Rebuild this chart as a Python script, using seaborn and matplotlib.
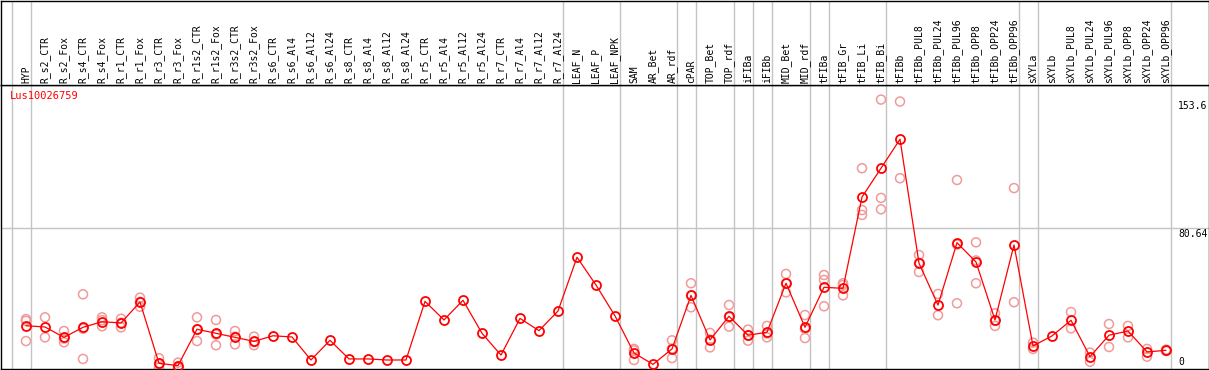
import numpy as np
import matplotlib
matplotlib.use("Agg")
import matplotlib.pyplot as plt
import seaborn as sns
import pandas as pd

samples = ['HYP', 'R_s2_CTR', 'R_s2_Fox', 'R_s4_CTR', 'R_s4_Fox', 'R_r1_CTR', 'R_r1_Fox',
           'R_r3_CTR', 'R_r3_Fox', 'R_r1s2_CTR', 'R_r1s2_Fox', 'R_r3s2_CTR', 'R_r3s2_Fox',
           'R_s6_CTR', 'R_s6_Al4', 'R_s6_Al12', 'R_s6_Al24', 'R_s8_CTR', 'R_s8_Al4',
           'R_s8_Al12', 'R_s8_Al24', 'R_r5_CTR', 'R_r5_Al4', 'R_r5_Al12', 'R_r5_Al24',
           'R_r7_CTR', 'R_r7_Al4', 'R_r7_Al12', 'R_r7_Al24', 'LEAF_N', 'LEAF_P', 'LEAF_NPK',
           'SAM', 'AR_Bet', 'AR_rdf', 'cPAR', 'TOP_Bet', 'TOP_rdf', 'iFIBa', 'iFIBb',
           'MID_Bet', 'MID_rdf', 'tFIBa', 'tFIB_Gr', 'tFIB_Li', 'tFIB_Bi', 'tFIBb',
           'tFIBb_PUL8', 'tFIBb_PUL24', 'tFIBb_PUL96', 'tFIBb_OPP8', 'tFIBb_OPP24',
           'tFIBb_OPP96', 'sXYLa', 'sXYLb', 'sXYLb_PUL8', 'sXYLb_PUL24', 'sXYLb_PUL96',
           'sXYLb_OPP8', 'sXYLb_OPP24', 'sXYLb_OPP96']

means = [24.8, 24.1, 18.2, 23.9, 27.1, 26.4, 38.3, 3.4, 2.1, 22.8, 20.5, 18.2, 15.9,
         19.1, 18.4, 5.3, 16.5, 5.9, 5.9, 5.3, 5.3, 38.7, 28.1, 39.3, 20.5,
         8.1, 29.0, 22.0, 33.2, 63.8, 48.0, 30.4,
         9.3, 2.8, 11.6, 42.1, 16.7, 30.2, 19.4, 21.1, 49.0, 23.9,
         46.7, 46.1, 98.1, 114.5, 131.0, 60.4, 36.6, 72.1, 61.1, 28.1, 70.8,
         13.3, 19.0, 27.9, 7.2, 19.4, 21.8, 9.9, 10.8]

replicates = [[28.6, 27.6, 16.1], [29.6, 18.2], [21.8, 15.4, 17.5], [42.7, 5.9, 23.1],
              [29.6, 28.0, 24.5], [28.8, 23.9, 26.5], [40.8, 35.6, 38.4], [6.3, 1.0, 3.0],
              [3.8, 0.8, 1.7], [29.6, 16.1, 22.7], [28.1, 13.7, 19.8], [21.8, 14.2, 18.6],
              [18.6, 13.7, 15.5],
              [], [], [], [], [], [], [], [], [], [], [], [], [], [], [], [], [], [], [],
              [11.6, 10.8, 5.3], [], [16.5, 6.4, 11.8], [49.0, 35.3, 42.0],
              [20.7, 12.5, 16.9], [36.6, 24.3, 29.7], [22.6, 16.3, 19.3], [24.7, 18.2, 20.4],
              [54.3, 43.8, 48.9], [30.9, 17.8, 23.0], [53.7, 50.9, 35.9], [49.0, 48.0, 42.1],
              [114.5, 90.7, 87.9], [153.6, 97.6, 91.1], [152.5, 108.8],
              [65.1, 55.4, 60.7], [42.9, 30.8], [107.8, 37.6, 71.0], [72.3, 49.0, 62.0],
              [31.9, 24.7, 27.7], [103.2, 38.2],
              [15.2, 11.6], [], [32.6, 23.3], [9.5, 4.3], [25.8, 12.7], [24.7, 18.2],
              [11.6, 7.2], [11.2, 10.4]]

# group separators sit just right of these sample indices
group_ends = [-1, 0, 28, 31, 34, 35, 37, 38, 39, 41, 42, 45, 52, 53, 60]
y_ticks = [0, 80.64, 153.6]
gene = 'Lus10026759'

pos = np.arange(len(samples))
mean_df = pd.DataFrame({'pos': pos, 'value': means})
rep_df = pd.DataFrame([(i, v) for i, reps in enumerate(replicates) for v in reps],
                      columns=['pos', 'value'])

sns.set_style('white')
plt.rcParams['font.family'] = ['DejaVu Sans Mono']
plt.rcParams['text.color'] = 'black'

W, H = 1209, 370
fig = plt.figure(figsize=(W / 100, H / 100), dpi=100)
ax = fig.add_axes([0.5 / W, 0.7 / H, 1208 / W, 284.3 / H])
hx = fig.add_axes([0.5 / W, 285 / H, 1208 / W, 84.5 / H])

xlim = ((0.5 - 26) / 19, (1208.5 - 26) / 19)
ymax = 161.9

grey = '#c4c4c4'
for a in (ax, hx):
    a.set_xlim(*xlim)
    a.set_xticks([])
    a.set_yticks([])
    for s in a.spines.values():
        s.set_color('black')
        s.set_linewidth(1.0)
    for g in group_ends:
        a.axvline(g + 0.25, color=grey, lw=1.0, zorder=0)
hx.set_ylim(0, 1)
ax.set_ylim(0, ymax)
ax.axhline(y_ticks[1], color=grey, lw=1.0, zorder=0)

sns.scatterplot(data=rep_df, x='pos', y='value', ax=ax, marker='o', s=42,
                facecolor='none', edgecolor='#f09a9a', linewidth=1.1, zorder=2,
                clip_on=False, legend=False)
sns.lineplot(data=mean_df, x='pos', y='value', ax=ax, color='red', lw=0.9,
             marker='o', markersize=6.5, mfc='none', mec='red', mew=1.3,
             zorder=3, clip_on=False)
ax.set_xlabel('')
ax.set_ylabel('')

for i, name in enumerate(samples):
    hx.text(i, 2 / 85, name, rotation=90, ha='center', va='bottom', fontsize=7,
            color='black')

tx = ax.get_yaxis_transform()
for t in y_ticks:
    lab = ('%g' % t)
    if t == 0:
        ax.text(0.975, 1.2, lab, transform=tx, ha='left', va='bottom', fontsize=7,
                color='black')
    else:
        ax.text(0.975, t - 0.6, lab, transform=tx, ha='left', va='top', fontsize=7,
                color='black')

ax.text(9.5 / 1208, 0.961, gene, transform=ax.transAxes, color='red',
        ha='left', va='center', fontsize=7.5)

fig.savefig('out.png', dpi=100)
